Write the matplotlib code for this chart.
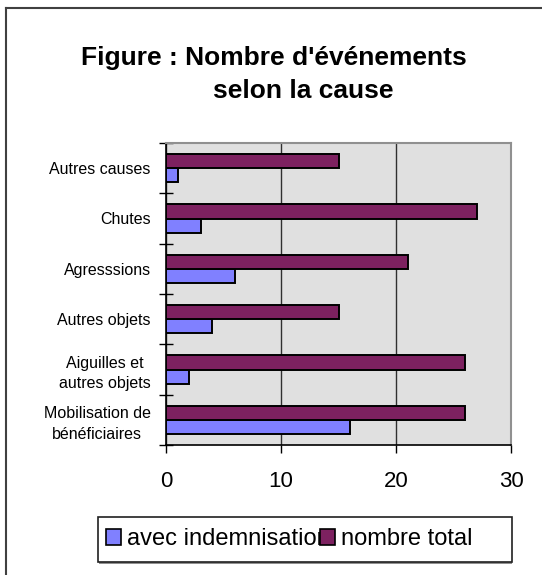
import matplotlib
matplotlib.use("Agg")
import matplotlib.pyplot as plt
import numpy as np
from matplotlib.patches import Rectangle, Patch
from matplotlib.lines import Line2D

categories = ["Mobilisation de\nbénéficiaires", "Aiguilles et\nautres objets", "Autres objets",
              "Agresssions", "Chutes", "Autres causes"]
avec_indemnisation = [16, 2, 4, 6, 3, 1]
nombre_total = [26, 26, 15, 21, 27, 15]
series_labels = ["avec indemnisation", "nombre total"]
xticks = [0, 10, 20, 30]

W, H = 542, 575
plt.rcParams['font.family'] = ['Liberation Sans', 'DejaVu Sans']
fig = plt.figure(figsize=(W / 100, H / 100), dpi=100)

def fx(px):
    return px / W

def fy(py):
    return 1 - py / H

ax = fig.add_axes([fx(166), fy(445), fx(511) - fx(166), fy(143) - fy(445)])
ax.set_facecolor('#E0E0E0')

blue = '#8080FF'
purple = '#7D2160'
y = np.arange(len(categories))
h = 0.28
ax.barh(y - h / 2, avec_indemnisation, height=h, color=blue, edgecolor='black', linewidth=1.4, zorder=3)
ax.barh(y + h / 2, nombre_total, height=h, color=purple, edgecolor='black', linewidth=1.4, zorder=3)

ax.set_xlim(0, 30)
ax.set_ylim(-0.5, len(categories) - 0.5)
ax.set_xticks(xticks)
ax.set_xticklabels([str(t) for t in xticks], fontsize=16)
ax.tick_params(axis='x', direction='out', length=6, width=1, pad=13, colors='black')

ax.set_yticks(np.arange(-0.5, len(categories), 1.0))
ax.set_yticklabels([])
ax.set_yticks(y, minor=True)
ax.set_yticklabels(categories, minor=True, fontsize=11.5, ma='center', linespacing=1.45)
ax.tick_params(axis='y', which='major', direction='inout', length=10, width=1)
ax.tick_params(axis='y', which='minor', length=0, pad=11)

ax.xaxis.grid(True, color='#303030', linewidth=1, zorder=1)
ax.set_axisbelow(True)
for s in ['left', 'bottom']:
    ax.spines[s].set_color('black')
    ax.spines[s].set_linewidth(1.2)
for s in ['top', 'right']:
    ax.spines[s].set_color('#909090')
    ax.spines[s].set_linewidth(1.5)

# Title
fig.text(fx(274), fy(65), "Figure : Nombre d'événements", fontsize=19, fontweight='bold',
         ha='center', va='baseline')
fig.text(fx(303), fy(98), "selon la cause", fontsize=19, fontweight='bold',
         ha='center', va='baseline')

# Outer frame (left & top edges visible)
fig.add_artist(Line2D([fx(6), fx(6)], [fy(8), fy(575)], color='#404040', lw=1.5,
                      transform=fig.transFigure))
fig.add_artist(Line2D([fx(6), fx(542)], [fy(8), fy(8)], color='#404040', lw=1.5,
                      transform=fig.transFigure))

# Legend frame with shadow
fig.add_artist(Rectangle((fx(99), fy(564)), fx(512) - fx(99), fy(519) - fy(564),
                         transform=fig.transFigure, facecolor='#909090', edgecolor='none'))
fig.add_artist(Rectangle((fx(98), fy(562)), fx(512) - fx(98), fy(517) - fy(562),
                         transform=fig.transFigure, facecolor='white', edgecolor='#202020', lw=1.2))

handles = [Patch(facecolor=blue, edgecolor='black', linewidth=1.2),
           Patch(facecolor=purple, edgecolor='black', linewidth=1.2)]
fig.legend(handles, series_labels, loc='center left', bbox_to_anchor=(fx(106), fy(539)),
           ncol=2, frameon=False, fontsize=17, borderpad=0, borderaxespad=0,
           handlelength=0.64, handleheight=0.64, handletextpad=0.25, columnspacing=-0.42)

fig.savefig('out.png', dpi=100)
